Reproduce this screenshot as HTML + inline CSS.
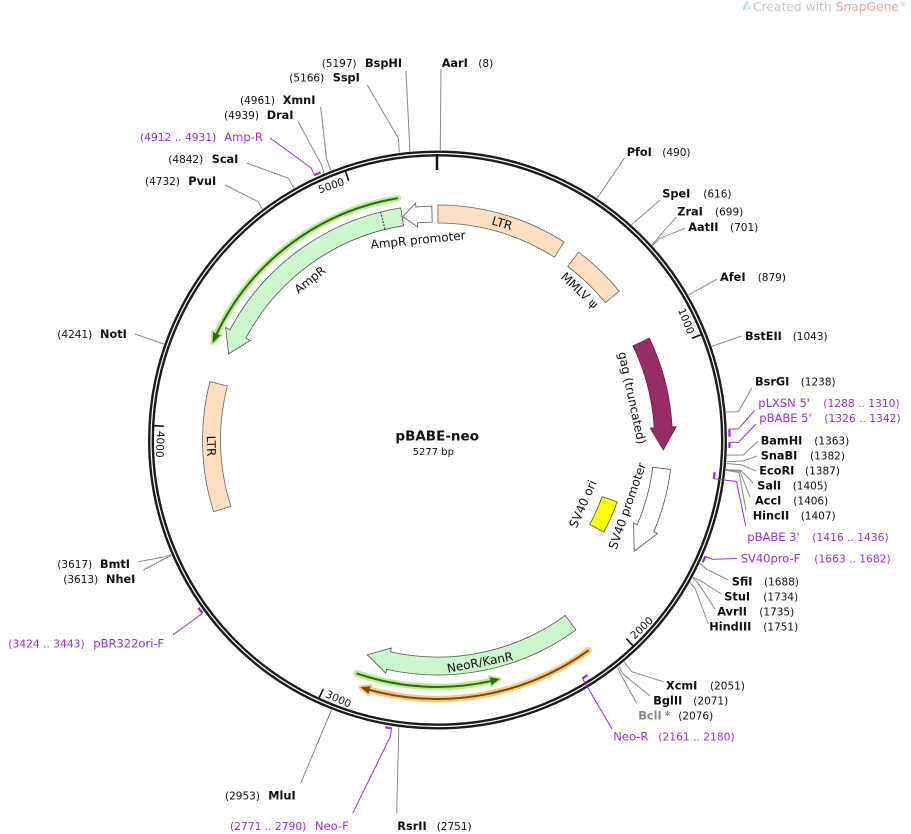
<!DOCTYPE html>
<html><head><meta charset="utf-8"><style>
html,body{margin:0;padding:0;background:#fff;}
svg{display:block;}
.e{font-family:"DejaVu Sans","Liberation Sans",sans-serif;font-weight:bold;font-size:11.3px;fill:#111;}
.n{font-family:"DejaVu Sans","Liberation Sans",sans-serif;font-size:10.5px;fill:#111;}
.p{font-family:"DejaVu Sans","Liberation Sans",sans-serif;font-size:11.5px;fill:#9b30d9;}
.pn{font-family:"DejaVu Sans","Liberation Sans",sans-serif;font-size:10.7px;fill:#9b30d9;}
.f{font-family:"DejaVu Sans","Liberation Sans",sans-serif;font-size:12px;fill:#111;}
.t{font-family:"DejaVu Sans","Liberation Sans",sans-serif;font-size:10.5px;fill:#111;}
.l{stroke:#8a8a8a;stroke-width:1;fill:none;}
.pl{stroke:#9b30d9;stroke-width:1;fill:none;}
.pa{stroke:#9b30d9;stroke-width:2.3;fill:none;}
</style></head><body>
<svg width="911" height="834" viewBox="0 0 911 834" xmlns="http://www.w3.org/2000/svg">
<rect width="911" height="834" fill="#fff"/>

<!-- watermark -->
<polygon points="742,10 746,1 749,1 745,10" fill="#bfe3f3"/>
<polygon points="746,10 749,4 751,10" fill="#d6eef8"/>
<text x="753" y="11" font-family="DejaVu Sans, Liberation Sans, sans-serif" font-size="12.3" fill="#c8c8c8">Created with <tspan fill="#f2a3a3">SnapGene</tspan><tspan font-size="8" dy="-4">®</tspan></text>

<!-- features -->
<path d="M437.9,205 A235,235 0 0 1 564.1,242 L554.4,257.2 A217,217 0 0 0 437.9,223 Z" fill="#fddfc0" stroke="#666" stroke-width="0.8"/>
<path d="M578.6,252.1 A235,235 0 0 1 619.3,291.2 L605.4,302.6 A217,217 0 0 0 567.8,266.5 Z" fill="#fddfc0" stroke="#666" stroke-width="0.8"/>
<path d="M431.8,206.1 A234,234 0 0 0 415.9,207.0 L415.5,203.0 L402.9,216.7 L417.7,226.9 L417.4,222.9 A218,218 0 0 1 432.2,222.1 Z" fill="#fff" stroke="#555" stroke-width="0.8"/>
<path d="M400.7,207.9 A235,235 0 0 0 230.0,329.7 L225.6,327.3 L228.6,353.9 L250.3,340.5 L245.9,338.1 A217,217 0 0 1 403.6,225.7 Z" fill="#ccf6cc" stroke="#555" stroke-width="0.8"/>
<path d="M380.6,212 L385.0,229.4" stroke="#222" stroke-width="1" stroke-dasharray="1.6,1.6"/>

<!-- AmpR ORF -->
<path d="M397.9,198.2 A245,245 0 0 0 216.4,334.5" stroke="#b9ec90" stroke-width="6.5" fill="none" stroke-linecap="round"/>
<polygon points="213.1,332.0 212.5,343.1 220.3,335.5" fill="#b9ec90" stroke="#b9ec90" stroke-width="4" stroke-linejoin="round"/>
<path d="M397.9,198.2 A245,245 0 0 0 216.4,334.5" stroke="#2d6a10" stroke-width="2" fill="none"/>
<polygon points="213.1,332.0 212.5,343.1 220.3,335.5" fill="#2d6a10"/>

<path d="M213.7,511.8 A235,235 0 0 1 209.9,381.6 L227.3,386.0 A217,217 0 0 0 230.9,506.3 Z" fill="#fddfc0" stroke="#666" stroke-width="0.8"/>
<path d="M649.3,338.1 A235,235 0 0 1 672.1,426.9 L676.1,426.7 L663.3,449.9 L650.2,428.1 L654.2,427.9 A217,217 0 0 0 633.0,345.9 Z" fill="#962d66" stroke="#6a1a45" stroke-width="0.8"/>
<path d="M670.6,469.5 A235,235 0 0 1 653.8,531.8 L657.5,533.4 L634.2,551.3 L633.6,523.2 L637.2,524.8 A217,217 0 0 0 652.8,467.2 Z" fill="#fff" stroke="#555" stroke-width="0.8"/>
<path d="M617.1,501.9 A190,190 0 0 1 603.7,532.1 L589.7,524.4 A174,174 0 0 0 602.0,496.6 Z" fill="#ffff00" stroke="#555" stroke-width="0.8"/>
<path d="M575.9,629.9 A235,235 0 0 1 386.6,669.4 L385.8,673.3 L367.3,654.8 L391.4,648.0 L390.5,651.9 A217,217 0 0 0 565.3,615.4 Z" fill="#ccf6cc" stroke="#555" stroke-width="0.8"/>

<!-- Neo ORFs -->
<path d="M356.7,673.4 A247,247 0 0 0 490.5,681.2" stroke="#b9ec90" stroke-width="6.5" fill="none" stroke-linecap="round"/>
<polygon points="491.4,685.1 499.8,679.0 489.7,677.3" fill="#b9ec90" stroke="#b9ec90" stroke-width="4" stroke-linejoin="round"/>
<path d="M356.7,673.4 A247,247 0 0 0 490.5,681.2" stroke="#2d6a10" stroke-width="2" fill="none"/>
<polygon points="491.4,685.1 499.8,679.0 489.7,677.3" fill="#2d6a10"/>

<path d="M588.6,650.3 A259,259 0 0 1 369.6,689.9" stroke="#f6c97c" stroke-width="6.5" fill="none" stroke-linecap="round"/>
<polygon points="368.5,693.8 360.5,687.3 370.6,686.1" fill="#f6c97c" stroke="#f6c97c" stroke-width="4" stroke-linejoin="round"/>
<path d="M588.6,650.3 A259,259 0 0 1 369.6,689.9" stroke="#7a4a12" stroke-width="2" fill="none"/>
<polygon points="368.5,693.8 360.5,687.3 370.6,686.1" fill="#7a4a12"/>

<!-- feature labels -->
<text class="f" text-anchor="middle" transform="translate(502.1,223.4) rotate(16.6)" y="4">LTR</text>
<text class="f" text-anchor="middle" transform="translate(579.5,290.5) rotate(43.5)" y="4">MMLV ψ</text>
<text class="f" text-anchor="middle" transform="translate(418,240) rotate(-5.6)" y="4">AmpR promoter</text>
<text class="f" text-anchor="middle" transform="translate(310,280) rotate(-38.6)" y="4">AmpR</text>
<text class="f" text-anchor="middle" transform="translate(211,446) rotate(88.4)" y="4">LTR</text>
<text class="f" text-anchor="middle" transform="translate(632,398) rotate(78)" y="4">gag (truncated)</text>
<text class="f" text-anchor="middle" transform="translate(627.5,506) rotate(-70.8)" y="4">SV40 promoter</text>
<text class="f" text-anchor="middle" transform="translate(583,504) rotate(-66.3)" y="4">SV40 ori</text>
<text class="f" text-anchor="middle" transform="translate(480,662.5) rotate(-10.8)" y="4">NeoR/KanR</text>

<!-- backbone -->
<circle cx="437.5" cy="440" r="286.5" fill="none" stroke="#1c1c1c" stroke-width="6"/>
<circle cx="437.5" cy="440" r="286.5" fill="none" stroke="#fff" stroke-width="1.2"/>

<!-- ticks -->
<line x1="437" y1="154" x2="437" y2="170" stroke="#111" stroke-width="2.5"/>
<g stroke="#111" stroke-width="1.6">
<line x1="701.2" y1="334.6" x2="691.9" y2="338.3"/>
<line x1="633.2" y1="645.9" x2="626.3" y2="638.6"/>
<line x1="319.0" y1="698.1" x2="323.2" y2="689.0"/>
<line x1="153.9" y1="425.7" x2="163.8" y2="426.2"/>
<line x1="345.5" y1="171.3" x2="348.7" y2="180.8"/>
</g>
<text class="t" text-anchor="end" transform="translate(687.8,334.8) rotate(68.2)">1000</text>
<text class="t" text-anchor="start" transform="translate(634.5,639.7) rotate(-43.56)">2000</text>
<text class="t" text-anchor="start" transform="translate(324.8,696.8) rotate(24.66)">3000</text>
<text class="t" text-anchor="start" transform="translate(157.2,430.7) rotate(92.88)">4000</text>
<text class="t" text-anchor="end" transform="translate(345.1,184.7) rotate(-18.9)">5000</text>

<!-- enzyme leaders -->
<polyline class="l" points="406,71 409.9,151.3"/>
<polyline class="l" points="367.3,85 398.5,138.5 399.3,152.5"/>
<polyline class="l" points="441,69 440.3,150"/>
<polyline class="l" points="320.7,107 326.5,158.5 330.9,170.3"/>
<polyline class="l" points="298.3,122 321.7,165 323.9,173.2"/>
<polyline class="l" points="246.7,163 288.3,178.3 293.9,188.0"/>
<polyline class="l" points="225,185 258.3,201.7 262.2,209.0"/>
<polyline class="l" points="624.3,158.3 597.3,198.0"/>
<polyline class="l" points="660,200 631.6,224.6"/>
<polyline class="l" points="676,217.3 652.0,244.8"/>
<polyline class="l" points="685,228.3 660,238.3 652.5,245.4"/>
<polyline class="l" points="716.7,279.3 688.6,294.9"/>
<polyline class="l" points="741.7,336 711.9,346.3"/>
<polyline class="l" points="751.7,388.3 738.3,411.7 726.1,412.0"/>
<polyline class="l" points="758.3,441 743.3,455 727.1,455.1"/>
<polyline class="l" points="757,456 743,461 726.7,461.6"/>
<polyline class="l" points="756,471 742,465 726.7,463.4"/>
<polyline class="l" points="753,483 741,470.5 726.0,469.6"/>
<polyline class="l" points="750,497 740,471.5 726,469.9"/>
<polyline class="l" points="746,510 739,472.5 725.9,470.3"/>
<polyline class="l" points="728.3,580 706.7,569.3 700.0,563.3"/>
<polyline class="l" points="721.7,594 699,580 692.8,577.5"/>
<polyline class="l" points="715,609 698,583 692.6,577.8"/>
<polyline class="l" points="708.3,624 695,588 690.0,582.6"/>
<polyline class="l" points="663.3,681.7 631.7,671.7 624.2,661.9"/>
<polyline class="l" points="650,696 623,674 618.9,666.3"/>
<polyline class="l" points="636.7,703.3 621,675 617.5,667.4"/>
<polyline class="l" points="396.7,813.3 398.8,727.4"/>
<polyline class="l" points="300.7,783.3 331.5,709.9"/>
<polyline class="l" points="135,334 163.8,344.0"/>
<polyline class="l" points="138.3,561.7 166,556.5 171.1,554.5"/>
<polyline class="l" points="143.3,570 166,558 171.6,555.7"/>

<!-- primers -->
<path class="pa" d="M314.5,175.2 A292,292 0 0 1 320.5,172.5"/>
<polyline class="pl" points="270,138 311.1,167.9 314.5,175.2"/>
<path class="pa" d="M729.3,429.1 A292,292 0 0 1 729.5,436.8"/>
<polyline class="pl" points="755,410 738.3,428.8 729.3,429.1"/>
<path class="pa" d="M729.5,442.3 A292,292 0 0 1 729.4,447.9"/>
<polyline class="pl" points="756,424 738.5,442.4 729.5,442.3"/>
<path class="pa" d="M714.7,472.1 A279,279 0 0 1 713.8,478.7"/>
<polyline class="pl" points="713.8,478.7 736.5,481.5 745.7,526"/>
<path class="pa" d="M705.4,556.2 A292,292 0 0 1 702.7,562.2"/>
<polyline class="pl" points="705.4,556.2 712.7,559.4 737,558.5"/>
<path class="pa" d="M587.7,675.1 A279,279 0 0 1 582.4,678.4"/>
<polyline class="pl" points="582.4,678.4 585,683 612,729"/>
<path class="pa" d="M391.6,728.4 A292,292 0 0 1 385.1,727.3"/>
<polyline class="pl" points="391.6,728.4 390.4,736.3 352.7,813.3"/>
<path class="pa" d="M202.5,613.3 A292,292 0 0 1 198.6,607.9"/>
<polyline class="pl" points="202.5,613.3 196.1,618.1 172.7,635"/>

<!-- enzyme labels: top-left -->
<text class="n" x="321.7" y="67">(5197)</text><text class="e" x="365" y="67">BspHI</text>
<text class="n" x="289.3" y="81.5">(5166)</text><text class="e" x="332.7" y="81.5">SspI</text>
<text class="e" x="441.7" y="67">AarI</text><text class="n" x="478.3" y="67">(8)</text>
<text class="n" x="240" y="104">(4961)</text><text class="e" x="282.7" y="104">XmnI</text>
<text class="n" x="224" y="119">(4939)</text><text class="e" x="266.7" y="119">DraI</text>
<text class="pn" x="140" y="141">(4912 .. 4931)</text><text class="p" x="224.3" y="141">Amp-R</text>
<text class="n" x="168.3" y="163">(4842)</text><text class="e" x="211.7" y="163">ScaI</text>
<text class="n" x="145" y="185">(4732)</text><text class="e" x="188.3" y="185">PvuI</text>

<!-- right -->
<text class="e" x="626.7" y="156">PfoI</text><text class="n" x="662.3" y="156">(490)</text>
<text class="e" x="662.3" y="197.5">SpeI</text><text class="n" x="703.3" y="197.5">(616)</text>
<text class="e" x="677.3" y="215.3">ZraI</text><text class="n" x="715" y="215.3">(699)</text>
<text class="e" x="688.3" y="231">AatII</text><text class="n" x="730" y="231">(701)</text>
<text class="e" x="720" y="281">AfeI</text><text class="n" x="757.7" y="281">(879)</text>
<text class="e" x="745" y="340">BstEII</text><text class="n" x="792.7" y="340">(1043)</text>
<text class="e" x="755" y="385.5">BsrGI</text><text class="n" x="800.7" y="385.5">(1238)</text>
<text class="p" x="758.3" y="407">pLXSN 5'</text><text class="pn" x="823.3" y="407">(1288 .. 1310)</text>
<text class="p" x="759.3" y="422">pBABE 5'</text><text class="pn" x="824.3" y="422">(1326 .. 1342)</text>
<text class="e" x="760.7" y="444.5">BamHI</text><text class="n" x="814.3" y="444.5">(1363)</text>
<text class="e" x="760.7" y="459.5">SnaBI</text><text class="n" x="810" y="459.5">(1382)</text>
<text class="e" x="759.3" y="474.5">EcoRI</text><text class="n" x="805" y="474.5">(1387)</text>
<text class="e" x="757.3" y="489.5">SalI</text><text class="n" x="792.7" y="489.5">(1405)</text>
<text class="e" x="755" y="504.5">AccI</text><text class="n" x="793.3" y="504.5">(1406)</text>
<text class="e" x="752.7" y="519.5">HincII</text><text class="n" x="800.7" y="519.5">(1407)</text>
<text class="p" x="747.3" y="541">pBABE 3'</text><text class="pn" x="812.3" y="541">(1416 .. 1436)</text>
<text class="p" x="740.7" y="562.5">SV40pro-F</text><text class="pn" x="814.3" y="562.5">(1663 .. 1682)</text>
<text class="e" x="731.7" y="585.5">SfiI</text><text class="n" x="764" y="585.5">(1688)</text>
<text class="e" x="724.3" y="600.5">StuI</text><text class="n" x="763.3" y="600.5">(1734)</text>
<text class="e" x="717.3" y="615.5">AvrII</text><text class="n" x="759.3" y="615.5">(1735)</text>
<text class="e" x="709.3" y="630.5">HindIII</text><text class="n" x="763.3" y="630.5">(1751)</text>

<!-- bottom right -->
<text class="e" x="666" y="689.5">XcmI</text><text class="n" x="710" y="689.5">(2051)</text>
<text class="e" x="653.3" y="704.5">BglII</text><text class="n" x="693.3" y="704.5">(2071)</text>
<text class="e" x="638.3" y="719.7" style="fill:#888">BclI</text><text class="e" x="664.5" y="719.7" style="fill:#888">*</text><text class="n" x="678.3" y="719.7">(2076)</text>
<text class="p" x="613.3" y="740.5">Neo-R</text><text class="pn" x="658.3" y="740.5">(2161 .. 2180)</text>

<!-- bottom -->
<text class="n" x="225" y="799.5">(2953)</text><text class="e" x="268.3" y="799.5">MluI</text>
<text class="pn" x="230" y="830">(2771 .. 2790)</text><text class="p" x="315" y="830">Neo-F</text>
<text class="e" x="397.3" y="830">RsrII</text><text class="n" x="436.7" y="830">(2751)</text>

<!-- left -->
<text class="n" x="57.3" y="338">(4241)</text><text class="e" x="100" y="338">NotI</text>
<text class="n" x="57.3" y="568">(3617)</text><text class="e" x="100" y="568">BmtI</text>
<text class="n" x="63.3" y="583">(3613)</text><text class="e" x="106" y="583">NheI</text>
<text class="pn" x="8.3" y="647.7">(3424 .. 3443)</text><text class="p" x="93.3" y="647.7">pBR322ori-F</text>

<!-- center -->
<text x="437.2" y="440.7" text-anchor="middle" font-family="DejaVu Sans, Liberation Sans, sans-serif" font-weight="bold" font-size="13.5" fill="#111">pBABE-neo</text>
<text x="433.3" y="455" text-anchor="middle" font-family="DejaVu Sans, Liberation Sans, sans-serif" font-size="10" fill="#111">5277 bp</text>
</svg>
</body></html>
